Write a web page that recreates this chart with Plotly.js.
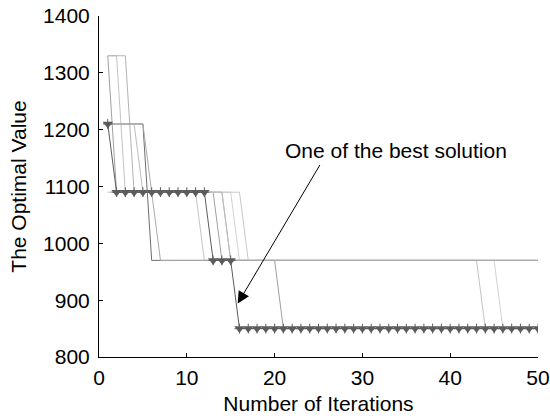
<!DOCTYPE html>
<html>
<head>
<meta charset="utf-8">
<script src="https://cdn.plot.ly/plotly-3.0.1.min.js"></script>
<style>html,body{margin:0;padding:0;background:#fff}#chart{width:550px;height:418px}</style>
</head>
<body>
<div id="chart"></div>
<script>
var iterations = [1,2,3,4,5,6,7,8,9,10,11,12,13,14,15,16,17,18,19,20,21,22,23,24,25,26,27,28,29,30,31,32,33,34,35,36,37,38,39,40,41,42,43,44,45,46,47,48,49,50];

var run1 = [1330,1090,1090,1090,1090,1090,1090,1090,1090,1090,1090,1090,1090,970,970,970,970,970,970,970,850,850,850,850,850,850,850,850,850,850,850,850,850,850,850,850,850,850,850,850,850,850,850,850,850,850,850,850,850,850];
var run2 = [1330,1330,1090,1090,1090,1090,1090,1090,1090,1090,1090,970,970,970,970,970,970,970,970,970,970,970,970,970,970,970,970,970,970,970,970,970,970,970,970,970,970,970,970,970,970,970,970,850,850,850,850,850,850,850];
var run3 = [1330,1330,1330,1090,1090,1090,1090,1090,1090,1090,1090,1090,1090,1090,970,970,970,970,970,970,970,970,970,970,970,970,970,970,970,970,970,970,970,970,970,970,970,970,970,970,970,970,970,970,970,970,970,970,970,970];
var run4 = [1210,1210,1210,1210,1210,970,970,970,970,970,970,970,970,970,970,970,970,970,970,970,970,970,970,970,970,970,970,970,970,970,970,970,970,970,970,970,970,970,970,970,970,970,970,970,970,970,970,970,970,970];
var run5 = [1090,1090,1090,1090,1090,1090,1090,1090,1090,1090,1090,1090,1090,1090,1090,970,970,970,970,970,970,970,970,970,970,970,970,970,970,970,970,970,970,970,970,970,970,970,970,970,970,970,970,970,970,850,850,850,850,850];
var run6 = [1090,1090,1090,1090,1090,1090,1090,1090,1090,1090,1090,1090,1090,1090,1090,1090,970,970,970,970,970,970,970,970,970,970,970,970,970,970,970,970,970,970,970,970,970,970,970,970,970,970,970,970,970,970,970,970,970,970];
var run7 = [1210,1210,1210,1210,1090,1090,1090,1090,1090,1090,1090,1090,1090,1090,970,970,970,970,970,970,970,970,970,970,970,970,970,970,970,970,970,970,970,970,970,970,970,970,970,970,970,970,970,970,970,970,970,970,970,970];
var run8 = [1210,1210,1210,1210,1210,1090,970,970,970,970,970,970,970,970,970,970,970,970,970,970,970,970,970,970,970,970,970,970,970,970,970,970,970,970,970,970,970,970,970,970,970,970,970,970,970,970,970,970,970,970];
var bestRun = [1210,1090,1090,1090,1090,1090,1090,1090,1090,1090,1090,1090,970,970,970,850,850,850,850,850,850,850,850,850,850,850,850,850,850,850,850,850,850,850,850,850,850,850,850,850,850,850,850,850,850,850,850,850,850,850];

var xTicks = [0,10,20,30,40,50];
var yTicks = [800,900,1000,1100,1200,1300,1400];
var xTitle = 'Number of Iterations';
var yTitle = 'The Optimal Value';
var noteText = 'One of the best solution';

var runs = [run1, run2, run3, run4, run5, run6, run7, run8];
var runColors = ['#a0a0a0','#c4c4c4','#b4b4b4','#6e6e6e','#d2d2d2','#c8c8c8','#bcbcbc','#aaaaaa'];

var traces = runs.map(function(r, i){
  return {x: iterations, y: r, type: 'scatter', mode: 'lines',
          line: {color: runColors[i], width: 1}, hoverinfo: 'skip', showlegend: false};
});
traces.push({x: iterations, y: bestRun, type: 'scatter', mode: 'lines+markers',
  line: {color: '#5c5c5c', width: 1},
  marker: {symbol: 'triangle-down', size: 9, color: '#5c5c5c'},
  showlegend: false});
traces.push({x: iterations, y: bestRun, type: 'scatter', mode: 'markers',
  marker: {symbol: 'cross-thin', size: 7, color: '#5c5c5c', line: {color: '#5c5c5c', width: 1}},
  showlegend: false});

var fontFam = 'Liberation Sans, Arial, Helvetica, sans-serif';
var layout = {
  width: 550, height: 418,
  margin: {l: 99, r: 12, t: 16, b: 61},
  paper_bgcolor: '#fff', plot_bgcolor: '#fff',
  font: {family: fontFam, size: 21, color: '#000'},
  xaxis: {range: [0, 50], tickvals: xTicks, ticktext: xTicks.map(String),
    ticklabeloverflow: 'allow',
    showline: true, linecolor: '#000', linewidth: 1, ticks: 'inside', ticklen: 4, tickcolor: '#000',
    showgrid: false, zeroline: false, mirror: false, ticklabelstandoff: 2,
    title: {text: xTitle, font: {size: 21}, standoff: 8}},
  yaxis: {range: [800, 1400], tickvals: yTicks, ticktext: yTicks.map(String),
    ticklabeloverflow: 'allow',
    showline: true, linecolor: '#000', linewidth: 1, ticks: 'inside', ticklen: 4, tickcolor: '#000',
    showgrid: false, zeroline: false, mirror: false, ticklabelstandoff: 4,
    title: {text: yTitle, font: {size: 21}, standoff: 10}},
  annotations: [
    {x: 15.8, y: 894, xref: 'x', yref: 'y', text: '', showarrow: true,
     ax: 83, ay: -140, arrowhead: 2, arrowsize: 2.4, arrowwidth: 1, arrowcolor: '#000'},
    {x: 33.8, y: 1163, xref: 'x', yref: 'y', text: noteText, showarrow: false,
     font: {size: 21, color: '#000'}}
  ]
};

Plotly.newPlot('chart', traces, layout, {staticPlot: true});
</script>
</body>
</html>
